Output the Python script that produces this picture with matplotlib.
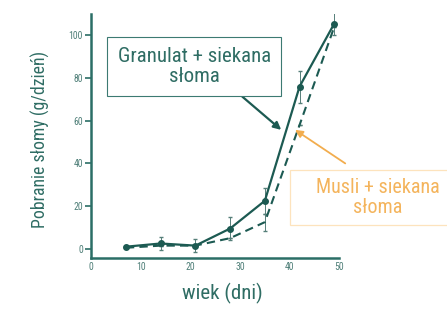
import numpy as np
import matplotlib
matplotlib.use("Agg")
import matplotlib.pyplot as plt
from matplotlib import font_manager
from matplotlib.patches import Rectangle

# dane
dni = [7, 14, 21, 28, 35, 42, 49]
granulat = [1, 2.5, 1.5, 9.5, 22.5, 76, 105.5]
granulat_err = [0, 3, 3, 5.5, 6, 7.5, 5.5]
musli = [0.5, 1.5, 1.5, 5, 12.5, 58, 104]
musli_err = [0, 0, 0, 0, 4, 0, 0]

teal = "#1c5a52"
txt = "#2f6d64"
orange = "#f2ad4e"

# szukamy waskiego kroju, jesli jest
names = {f.name for f in font_manager.fontManager.ttflist}
narrow_font = "DejaVu Sans"
fs_scale = 0.85
for n in ["Roboto Condensed", "Liberation Sans Narrow", "Open Sans Condensed",
          "DejaVu Sans Condensed", "Noto Sans Condensed"]:
    if n in names:
        narrow_font = n
        fs_scale = 1.0
        break
narrow = [narrow_font, "DejaVu Sans"]

fig = plt.figure(figsize=(4.47, 3.09), dpi=100)
ax = fig.add_axes([0.204, 0.165, 0.555, 0.79])

ax.errorbar(dni, musli, yerr=musli_err, color=teal, lw=1.5, ls=(0, (4, 2.5)),
            capsize=1.5, elinewidth=0.7, ecolor="#557f79")
ax.errorbar(dni, granulat, yerr=granulat_err, color=teal, lw=1.6, marker="o", ms=4,
            capsize=1.5, elinewidth=0.7, ecolor="#557f79")

ax.set_xlim(0, 50)
ax.set_ylim(-4.3, 110)
ax.set_xticks([0, 10, 20, 30, 40, 50])
ax.set_yticks([0, 20, 40, 60, 80, 100])
for s in ["top", "right"]:
    ax.spines[s].set_visible(False)
for s in ["left", "bottom"]:
    ax.spines[s].set_color("#2b6e66")
    ax.spines[s].set_linewidth(1.8)
ax.tick_params(axis="y", length=4, width=1.2, color="#2b6e66", labelsize=7 * fs_scale,
               labelcolor="#4f7f78", pad=2)
ax.tick_params(axis="x", length=0, labelsize=7 * fs_scale, labelcolor="#4f7f78", pad=3)
for lab in ax.get_xticklabels() + ax.get_yticklabels():
    lab.set_family(narrow)

ax.set_ylabel("Pobranie słomy (g/dzień)", fontsize=12.8 * fs_scale, color=txt, family=narrow)
ax.yaxis.set_label_coords(-0.165, 0.485)
ax.set_xlabel("wiek (dni)", fontsize=15 * fs_scale, color=txt, family=narrow)
ax.xaxis.set_label_coords(0.53, -0.1)

ax.annotate("Granulat + siekana\nsłoma", xy=(38.3, 55.7), xytext=(20.8, 85.4),
            fontsize=15 * fs_scale, color=txt, family=narrow, ha="center", va="center",
            linespacing=1.05,
            bbox=dict(boxstyle="square,pad=0.5", fc="white", ec="#3c7a72", lw=0.8),
            arrowprops=dict(arrowstyle="-|>", color=teal, lw=1.6, mutation_scale=11,
                            shrinkA=0, shrinkB=0, relpos=(0.73, 0)))

# pomaranczowa ramka wychodzi poza prawa krawedz
ax.add_patch(Rectangle((0.802, 0.135), 0.7, 0.225, transform=ax.transAxes,
                       fc="white", ec="#fde3bd", lw=0.9, clip_on=False, zorder=3))
ax.text(57.7, 24, "Musli + siekana\nsłoma", fontsize=14.5 * fs_scale, color="#f4b45c",
        family=narrow, ha="center", va="center", linespacing=1.05, clip_on=False, zorder=4)
ax.annotate("", xy=(41.1, 55.7), xytext=(51.2, 40), annotation_clip=False,
            arrowprops=dict(arrowstyle="-|>", color=orange, lw=1.3, mutation_scale=11,
                            shrinkA=0, shrinkB=0))

fig.savefig("out.png", dpi=100)
